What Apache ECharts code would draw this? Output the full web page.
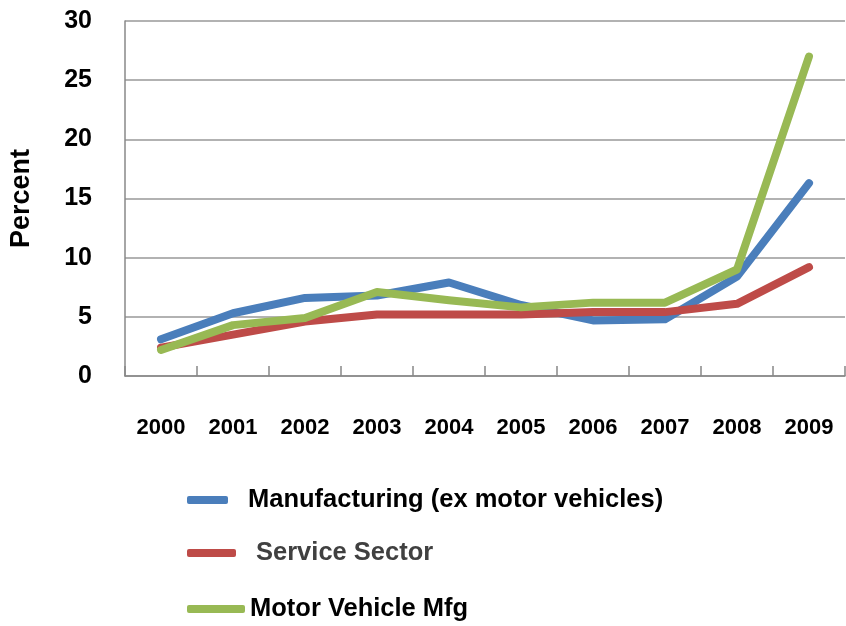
<!DOCTYPE html>
<html>
<head>
<meta charset="utf-8">
<script src="https://cdn.jsdelivr.net/npm/echarts@6/dist/echarts.min.js"></script>
<style>html,body{margin:0;padding:0;background:#fff}#c{width:846px;height:626px}</style>
</head>
<body>
<div id="c"></div>
<script>
const years = ['2000','2001','2002','2003','2004','2005','2006','2007','2008','2009'];
const manufacturing = [3.1, 5.3, 6.6, 6.8, 7.9, 6.0, 4.7, 4.8, 8.4, 16.3];
const service = [2.4, 3.5, 4.6, 5.2, 5.2, 5.2, 5.4, 5.4, 6.1, 9.2];
const motor = [2.2, 4.3, 4.9, 7.1, 6.4, 5.8, 6.2, 6.2, 9.0, 27.0];
const yTicks = [0, 5, 10, 15, 20, 25, 30];

const NAMES = ['Manufacturing (ex motor vehicles)', 'Service Sector', 'Motor Vehicle Mfg'];
const COLORS = ['#4A7EBB', '#BE4B48', '#98B954'];
const FONT = '"Liberation Sans", Arial, sans-serif';

const chart = echarts.init(document.getElementById('c'));
function legend(i, top, w, pad, color) {
  return {
    data: [{name: NAMES[i], textStyle: {color: color}}],
    left: 187, top: top, orient: 'horizontal', padding: 0,
    icon: 'roundRect', itemWidth: w, itemHeight: 8,
    textStyle: {fontFamily: FONT, fontWeight: 'bold', fontSize: 25.5, lineHeight: 30, padding: [0,0,0,pad]}
  };
}
chart.setOption({
  animation: false,
  color: COLORS,
  grid: {left: 123, top: 21, right: 1, bottom: 250, containLabel: false},
  legend: [
    legend(0, 485, 41, 15, '#000'),
    legend(1, 538, 49, 15, '#404040'),
    legend(2, 594, 58, 0, '#000')
  ],
  xAxis: {
    type: 'category', data: years, boundaryGap: true,
    axisLine: {show: true, lineStyle: {color: '#888', width: 1.5}},
    axisTick: {show: true, inside: true, length: 10, interval: 0, lineStyle: {color: '#888', width: 1.5}},
    axisLabel: {interval: 0, margin: 41, color: '#000', fontFamily: FONT, fontWeight: 'bold', fontSize: 22}
  },
  yAxis: {
    type: 'value', min: yTicks[0], max: yTicks[yTicks.length-1], interval: 5,
    name: 'Percent', nameLocation: 'middle', nameRotate: 90, nameGap: 90,
    nameTextStyle: {color: '#000', fontFamily: FONT, fontWeight: 'bold', fontSize: 27},
    axisLine: {show: true, lineStyle: {color: '#888', width: 1.5}},
    axisTick: {show: false},
    splitLine: {lineStyle: {color: '#999', width: 1.5}},
    axisLabel: {margin: 33, color: '#000', fontFamily: FONT, fontWeight: 'bold', fontSize: 25}
  },
  series: [
    {name: NAMES[0], type: 'line', data: manufacturing, symbol: 'none', lineStyle: {width: 8, cap: 'round', join: 'round'}},
    {name: NAMES[1], type: 'line', data: service, symbol: 'none', lineStyle: {width: 8, cap: 'round', join: 'round'}},
    {name: NAMES[2], type: 'line', data: motor, symbol: 'none', lineStyle: {width: 8, cap: 'round', join: 'round'}}
  ]
});
</script>
</body>
</html>
